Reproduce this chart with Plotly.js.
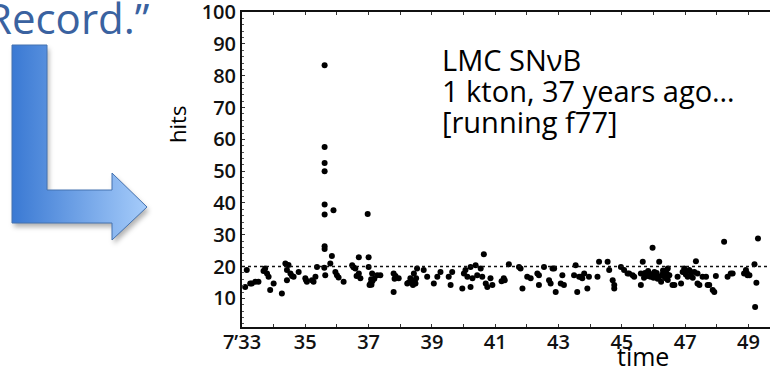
<!DOCTYPE html>
<html>
<head>
<meta charset="utf-8">
<script src="https://cdn.plot.ly/plotly-3.0.1.min.js"></script>
<style>
html,body{margin:0;padding:0;overflow:hidden;background:#fff;}
#chart{width:770px;height:371px;}
</style>
</head>
<body>
<div id="chart"></div>
<script>
// ---- data ----
const timeVals = [
 33.10,33.15,33.26,33.31,33.42,33.52,33.68,33.73,33.79,33.84,33.89,34.00,34.26,34.37,34.42,34.42,34.47,34.53,34.58,34.63,34.79,35.00,35.02,35.05,35.21,35.26,35.32,35.37,
 35.61,35.61,35.61,35.61,35.61,35.61,35.61,35.61,35.63,35.60,35.89,35.84,35.79,35.95,36.00,36.05,36.21,36.48,36.52,36.58,36.62,36.69,36.69,36.74,
 36.97,37.00,37.00,37.03,37.06,37.08,37.09,37.11,37.12,37.18,37.27,37.37,37.79,37.79,37.82,37.85,37.95,38.22,38.27,38.32,38.37,38.40,38.43,38.45,38.48,38.50,38.53,38.74,38.85,
 39.06,39.17,39.27,39.53,39.59,39.64,39.96,40.01,40.06,40.12,40.22,40.22,40.28,40.38,40.43,40.54,40.59,40.64,40.70,40.75,40.85,40.91,
 41.20,41.27,41.30,41.43,41.75,41.80,41.86,42.01,42.12,42.33,42.38,42.38,42.54,42.70,42.75,42.81,42.86,42.91,43.07,43.12,43.17,43.49,43.54,43.59,43.65,43.70,43.75,43.81,43.91,43.96,
 44.23,44.28,44.55,44.60,44.71,44.76,44.76,44.97,45.07,45.18,45.23,45.34,45.39,45.60,45.60,45.66,45.70,45.73,45.76,45.80,45.83,45.87,45.90,45.93,45.97,46.00,46.03,46.07,46.10,46.13,
 46.18,46.18,46.24,46.28,46.30,46.34,46.35,46.39,46.42,46.45,46.45,46.50,46.60,46.66,46.76,46.87,46.92,46.97,47.02,47.05,47.08,47.13,47.16,47.20,47.24,47.29,47.34,47.39,47.39,47.45,
 47.55,47.66,47.71,47.76,47.87,47.92,47.97,48.23,48.34,48.44,48.50,48.86,48.92,48.95,48.97,49.03,49.19,49.21,49.25,49.30
];
const hitsVals = [
 13.6,18.9,14.7,14.7,15.2,15.2,18.6,19.4,17.8,16.8,12.6,14.7,11.5,21.0,18.9,15.7,20.5,17.8,17.0,16.8,18.3,16.3,15.8,15.2,15.7,15.2,16.8,19.9,
 83.3,57.6,52.6,50.0,39.5,36.4,26.4,25.5,17.3,19.6,37.7,23.3,21.0,18.3,17.3,16.6,15.2,20.4,19.8,19.4,17.0,22.9,17.8,16.3,
 36.5,22.9,19.9,14.2,14.7,16.0,14.3,17.8,15.5,16.2,17.3,17.3,17.8,12.0,16.2,17.0,16.3,14.7,15.0,16.3,15.5,14.2,17.8,15.3,14.7,16.3,19.4,18.9,16.8,
 14.7,16.8,18.3,16.8,14.2,18.3,13.1,17.8,18.9,16.8,19.9,13.6,16.3,20.4,17.3,19.4,16.8,23.9,14.7,13.6,16.3,14.2,
 15.4,16.3,15.7,20.7,19.9,19.4,13.1,16.8,16.3,17.8,17.3,14.2,19.9,15.7,14.7,19.4,19.4,12.0,14.7,17.3,14.2,17.3,20.4,12.0,16.8,16.8,16.3,17.8,13.1,16.8,
 16.8,21.5,21.5,18.9,15.7,14.2,13.1,19.9,18.9,17.8,17.8,17.3,16.8,14.2,17.8,21.5,16.5,18.0,17.3,17.0,18.6,17.8,16.8,17.4,25.9,16.5,18.3,17.2,18.0,16.2,
 21.5,16.8,15.2,17.5,18.8,18.3,16.8,16.3,17.8,19.4,15.8,17.3,14.2,14.2,16.8,14.7,18.3,19.4,17.5,18.5,16.8,18.9,17.0,18.2,16.5,18.3,21.7,17.8,14.7,14.2,
 16.8,16.8,14.2,14.2,12.6,12.0,17.0,27.8,16.8,17.8,17.8,17.8,18.9,18.0,17.3,17.3,20.7,7.3,14.9,28.8
];
const threshold = 20;
const xTickVals = [33,35,37,39,41,43,45,47,49];
const xTickText = ["7\u201933","35","37","39","41","43","45","47","49"];
const yTickVals = [10,20,30,40,50,60,70,80,90,100];
const noteLines = ["LMC SN\u03bdB","1 kton, 37 years ago\u2026","[running f77]"];

// ---- decorative L-arrow (gradient) as an SVG image ----
const arrowPath = "M12,45 L47,45 L47,190 L112,190 L112,173 L147,207 L112,240 L112,223 L12,223 Z";
const svg = "<svg xmlns='http://www.w3.org/2000/svg' width='770' height='371' viewBox='0 0 770 371'>" +
 "<defs><linearGradient id='g' x1='12' y1='0' x2='147' y2='0' gradientUnits='userSpaceOnUse'>" +
 "<stop offset='0' stop-color='#3a79d3'/><stop offset='1' stop-color='#a6ccfa'/></linearGradient>" +
 "<filter id='s' x='-20%' y='-20%' width='140%' height='140%'><feGaussianBlur stdDeviation='2.5'/></filter></defs>" +
 "<path d='" + arrowPath + "' transform='translate(2,4)' fill='#000' fill-opacity='0.3' filter='url(#s)'/>" +
 "<path d='" + arrowPath + "' fill='url(#g)' stroke='#4472b0' stroke-width='1'/></svg>";
const svgUri = "data:image/svg+xml;charset=utf-8," + encodeURIComponent(svg);

const W = 770, H = 371;
const px = v => v / W;
const py = v => 1 - v / H;

const trace = {
  x: timeVals, y: hitsVals, type: 'scatter', mode: 'markers',
  marker: {color: '#000', size: 6, line: {width: 0}},
  hoverinfo: 'skip', showlegend: false, cliponaxis: false
};

const tickFont = {family: 'Open Sans, sans-serif', size: 20, color: '#111', weight: 600};
const textFont = {family: 'Open Sans, sans-serif', size: 29, color: '#000'};

const annotations = [
  {text: 'Record.\u201d', xref: 'paper', yref: 'paper', x: px(152), y: py(18), xanchor: 'right', yanchor: 'middle',
   showarrow: false, font: {family: 'Open Sans, sans-serif', size: 42, color: '#3a62a0'}},
  {text: 'hits', xref: 'paper', yref: 'paper', x: px(177), y: py(125), xanchor: 'center', yanchor: 'middle',
   textangle: -90, showarrow: false, font: {family: 'Open Sans, sans-serif', size: 22, color: '#000'}},
  {text: 'time', xref: 'paper', yref: 'paper', x: px(643), y: py(356), xanchor: 'center', yanchor: 'middle',
   showarrow: false, font: {family: 'Open Sans, sans-serif', size: 25, color: '#000'}}
];
const lineY = [60, 91, 122];
noteLines.forEach((t, i) => annotations.push({
  text: t, xref: 'paper', yref: 'paper', x: px(440), y: py(lineY[i]), xanchor: 'left', yanchor: 'middle',
  showarrow: false, font: textFont
}));

const layout = {
  width: W, height: H,
  margin: {l: 0, r: 0, t: 0, b: 0, pad: 0},
  paper_bgcolor: '#fff', plot_bgcolor: '#fff',
  xaxis: {
    domain: [242 / W, 1], range: [33, 49.68],
    tickvals: xTickVals, ticktext: xTickText,
    showgrid: false, zeroline: false,
    showline: true, linecolor: '#111', linewidth: 2, mirror: 'ticks',
    ticks: 'inside', ticklen: 3, tickcolor: '#333', tickwidth: 1,
    minor: {dtick: 1, ticks: 'inside', ticklen: 3, tickcolor: '#333', tickwidth: 1, showgrid: false},
    tickfont: tickFont, ticklabelstandoff: -4, ticklabeloverflow: 'allow'
  },
  yaxis: {
    domain: [1 - 327 / H, 1 - 12 / H], range: [1, 100.05],
    tickvals: yTickVals,
    showgrid: false, zeroline: false,
    showline: true, linecolor: '#111', linewidth: 2, mirror: false,
    ticks: 'inside', ticklen: 3, tickcolor: '#333', tickwidth: 1,
    minor: {dtick: 2, ticks: 'inside', ticklen: 2, tickcolor: '#555', tickwidth: 1, showgrid: false},
    tickfont: tickFont, ticklabelstandoff: 0, ticklabeloverflow: 'allow'
  },
  shapes: [
    {type: 'line', xref: 'x domain', x0: 0, x1: 1, yref: 'y', y0: threshold, y1: threshold,
     line: {color: '#111', width: 1.5, dash: 'dot'}}
  ],
  images: [
    {source: svgUri, xref: 'paper', yref: 'paper', x: 0, y: 1, sizex: 1, sizey: 1,
     xanchor: 'left', yanchor: 'top', sizing: 'stretch', layer: 'above'}
  ],
  annotations: annotations
};

Plotly.newPlot('chart', [trace], layout, {displayModeBar: false, staticPlot: true});
</script>
</body>
</html>
